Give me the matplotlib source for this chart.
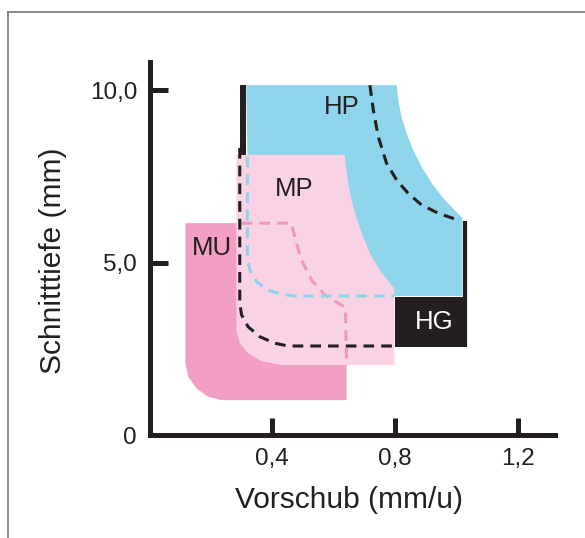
import matplotlib.pyplot as plt
from matplotlib.lines import Line2D

plt.rcParams['font.family'] = ['Liberation Sans', 'DejaVu Sans']

# Einsatzbereiche: Vorschub (mm/u) gegen Schnitttiefe (mm)
# MU - verdeckte Grenze (gestrichelt) und sichtbarer Rand
mu_grenze_x = [0.30, 0.462, 0.476, 0.495, 0.528, 0.571, 0.615, 0.638, 0.642]
mu_grenze_y = [6.14, 6.14, 5.65, 5.07, 4.49, 4.06, 3.82, 3.70, 2.03]
mu_rand_x = [0.642, 0.234, 0.191, 0.153, 0.126, 0.117, 0.117]
mu_rand_y = [1.01, 1.01, 1.11, 1.35, 1.69, 2.08, 6.14]

# HP
hp_kurve_x = [0.315, 0.805, 0.810, 0.821, 0.837, 0.859, 0.886, 0.919, 0.957, 0.994, 1.019, 1.019]
hp_kurve_y = [10.14, 10.14, 9.71, 9.23, 8.75, 8.26, 7.78, 7.30, 6.86, 6.52, 6.29, 4.03]
hp_grenze_x = [0.319, 0.319, 0.327, 0.349, 0.387, 0.430, 0.473, 0.797]
hp_grenze_y = [8.07, 5.17, 4.78, 4.44, 4.20, 4.08, 4.03, 4.03]

# MP
mp_x = [0.283, 0.636, 0.642, 0.653, 0.669, 0.691, 0.718, 0.750, 0.783, 0.797, 0.798,
        0.430, 0.365, 0.321, 0.294, 0.283]
mp_y = [8.12, 8.12, 7.59, 7.01, 6.43, 5.85, 5.27, 4.78, 4.40, 4.25, 2.03,
        2.03, 2.14, 2.37, 2.66, 3.04]

# HG
hg_oben_x = [0.718, 0.729, 0.745, 0.772, 0.805, 0.843, 0.886, 0.940, 1.005]
hg_oben_y = [10.14, 9.42, 8.65, 7.88, 7.39, 7.00, 6.67, 6.43, 6.23]
hg_links_x = [0.294, 0.294, 0.300, 0.321, 0.359, 0.408, 0.452, 0.798]
hg_links_y = [8.32, 3.82, 3.48, 3.14, 2.85, 2.66, 2.58, 2.58]
hg_kasten_x = [0.799, 1.033]
hg_kasten_y = [2.56, 4.01]

blau = '#8ED5EB'
rosa_hell = '#F9D3E5'
rosa = '#F39EC4'
rosa_strich = '#EF97BF'
schwarz = '#231F20'

fig = plt.figure(figsize=(5.85, 5.38), dpi=100)
ax = fig.add_axes([149.5 / 585, 103 / 538, 405 / 585, 373 / 538])
ax.set_xlim(0, 405 / 307)
ax.set_ylim(0, 373 / 34.5)

ax.fill(mu_grenze_x + mu_rand_x, mu_grenze_y + mu_rand_y, color=rosa, lw=0, zorder=1)
ax.fill(hp_kurve_x + hp_grenze_x[::-1], hp_kurve_y + hp_grenze_y[::-1], color=blau, lw=0, zorder=1)
ax.fill(mp_x, mp_y, color=rosa_hell, lw=0, zorder=2)

ax.fill_between(hg_kasten_x, hg_kasten_y[0], hg_kasten_y[1], color=schwarz, lw=0, zorder=3)
ax.plot([hg_kasten_x[1] - 0.006] * 2, [hg_kasten_y[0], 6.2], color=schwarz, lw=3, zorder=4,
        solid_capstyle='butt')
ax.plot([0.306, 0.306], [8.12, 10.14], color=schwarz, lw=4.3, zorder=4, solid_capstyle='butt')

ax.plot(mu_grenze_x, mu_grenze_y, color=rosa_strich, lw=2.2, dashes=(3.5, 2.3), zorder=4)
ax.plot(hp_grenze_x, hp_grenze_y, color=blau, lw=2.2, dashes=(3.5, 2.3), zorder=4)
ax.plot(hg_links_x, hg_links_y, color=schwarz, lw=2.2, dashes=(3.5, 2.3), zorder=5)
ax.plot(hg_oben_x, hg_oben_y, color=schwarz, lw=2.2, dashes=(3.5, 2.3), zorder=5)

ax.text(0.625, 9.51, 'HP', fontsize=18.5, ha='center', va='center', color=schwarz, zorder=6)
ax.text(0.472, 7.14, 'MP', fontsize=18.5, ha='center', va='center', color=schwarz, zorder=6)
ax.text(0.202, 5.42, 'MU', fontsize=18.5, ha='center', va='center', color=schwarz, zorder=6)
ax.text(0.927, 3.28, 'HG', fontsize=18.5, ha='center', va='center', color='white', zorder=6)

for s in ['top', 'right']:
    ax.spines[s].set_visible(False)
for s in ['left', 'bottom']:
    ax.spines[s].set_linewidth(3.6)
    ax.spines[s].set_color(schwarz)

ax.set_xticks([0.4, 0.8, 1.2])
ax.set_xticklabels(['0,4', '0,8', '1,2'])
ax.set_yticks([0, 5, 10])
ax.set_yticklabels(['0', '5,0', '10,0'])
ax.tick_params(direction='in', length=12.6, width=3.6, color=schwarz,
               labelsize=17.5, labelcolor=schwarz)
ax.tick_params(axis='x', pad=9)
ax.tick_params(axis='y', pad=9)

fig.text(349 / 585, 1 - 500 / 538, 'Vorschub (mm/u)', fontsize=21.5,
         ha='center', va='center', color=schwarz)
fig.text(53 / 585, 1 - 261 / 538, 'Schnitttiefe (mm)', fontsize=21.5, rotation=90,
         ha='center', va='center', color=schwarz)

# Rahmen oben und links
fig.add_artist(Line2D([7.5 / 585, 1], [1 - 12 / 538] * 2, color='#777777', lw=1.2))
fig.add_artist(Line2D([7.5 / 585] * 2, [0, 1 - 12 / 538], color='#777777', lw=1.2))

fig.savefig('out.png', dpi=100)
